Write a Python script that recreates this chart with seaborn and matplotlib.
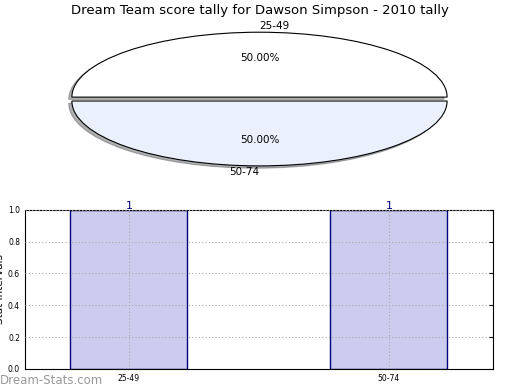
import matplotlib
matplotlib.use("Agg")
import matplotlib.pyplot as plt
import seaborn as sns
import pandas as pd

# score bands and how often each came up
bands = ["25-49", "50-74"]
counts = [1, 1]
pie_colors = ["#ffffff", "#eaf1fd"]

sns.set_style("white", {"xtick.direction": "in", "ytick.direction": "in"})
plt.rcParams["font.family"] = ["DejaVu Sans"]
plt.rcParams["text.color"] = "black"
plt.rcParams["axes.labelcolor"] = "black"
plt.rcParams["xtick.color"] = "black"
plt.rcParams["ytick.color"] = "black"

fig = plt.figure(figsize=(5.2, 3.9), dpi=100)

# pie on top, squashed to fill the axes like the old chart
ax1 = fig.add_axes([0.048, 0.538, 0.902, 0.416])
wedges, texts, autotexts = ax1.pie(
    counts, labels=bands, colors=pie_colors, autopct="%.2f%%",
    explode=[0.03, 0.03], shadow={"ox": -0.012, "oy": -0.025, "shade": 0.6},
    wedgeprops={"edgecolor": "black", "linewidth": 0.8},
    textprops={"fontsize": 7.5, "color": "black"},
)
texts[0].set_ha("left")
texts[1].set_ha("right")
ax1.set_aspect("auto")
ax1.set_xlim(-1.25, 1.25)
ax1.set_ylim(-1.25, 1.25)
fig.text(0.5, 0.974, "Dream Team score tally for Dawson Simpson - 2010 tally",
         ha="center", va="center", fontsize=9.5)

# bar chart below
df = pd.DataFrame({"band": bands, "count": counts})
ax2 = fig.add_axes([0.048, 0.054, 0.9, 0.408])
sns.barplot(data=df, x="band", y="count", ax=ax2, width=0.45,
            color="#ccccee", edgecolor="#000080", linewidth=1, saturation=1)
for i, c in enumerate(counts):
    ax2.text(i, c - 0.01, str(c), ha="center", va="bottom",
             color="#000080", fontsize=8, zorder=10)
ax2.set_xlim(-0.4, 1.4)
ax2.set_ylim(0, 1)
ax2.set_yticks([0, 0.2, 0.4, 0.6, 0.8, 1.0])
ax2.set_axisbelow(False)
ax2.grid(True, linestyle=(0, (1, 2)), color="#aaaaaa", linewidth=0.8)
ax2.tick_params(labelsize=5.5, length=3, top=False, right=True, direction="in")
for s in ax2.spines.values():
    s.set_color("black")
    s.set_linewidth(0.8)
ax2.set_xlabel("Frequency", fontsize=7.5, labelpad=5)
ax2.set_ylabel("Stat Intervals", fontsize=7.5, labelpad=2)

fig.text(0.0, 0.025, "Dream-Stats.com", color="#999999", fontsize=8.5,
         ha="left", va="center")

fig.savefig("out.png", dpi=100)
